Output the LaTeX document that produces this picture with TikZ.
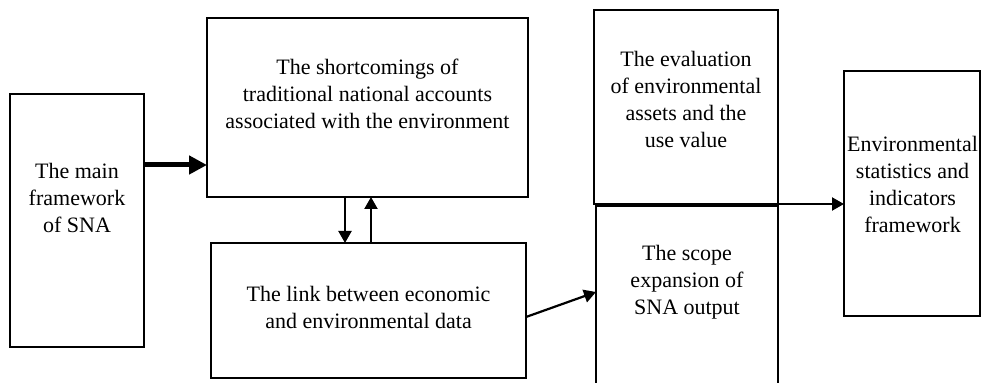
\documentclass[tikz,border=0pt]{standalone}
\usepackage{fontspec}
\setmainfont{Liberation Serif}
\usetikzlibrary{arrows.meta}

\begin{document}
\begin{tikzpicture}[x=0.5pt,y=-0.5pt]
    \tikzstyle{every node}+=[inner sep=0pt]
    \tikzstyle{box}=[draw=black, line width=0.65pt, outer sep=0pt]
    \tikzstyle{txt}=[align=center, font=\fontsize{11}{13.5}\selectfont]
    \tikzstyle{arr}=[line width=1.1pt, -{Triangle[length=6pt,width=6.5pt]}]
    \tikzstyle{bigarr}=[line width=2.5pt, -{Triangle[length=9pt,width=9pt]}]
    \useasboundingbox (0,0) rectangle (981,383);
    \node[box, minimum width=67pt, minimum height=126.5pt] (sna) at (77,220.5) {};
    \node[txt] (snatxt) at (77,197.5) {The main\\framework\\of SNA};
    \node[box, minimum width=160.5pt, minimum height=89.5pt] (shortc) at (367.5,107.5) {};
    \node[txt] (shortctxt) at (367.5,94) {The shortcomings of\\traditional national accounts\\associated with the environment};
    \node[box, minimum width=157.5pt, minimum height=67.5pt] (link) at (368.5,310.5) {};
    \node[txt] (linktxt) at (368.5,307) {The link between economic\\and environmental data};
    \node[box, minimum width=92pt, minimum height=97pt] (evalu) at (686,107) {};
    \node[txt] (evalutxt) at (686,99) {The evaluation\\of environmental\\assets and the\\use value};
    \node[box, minimum width=91pt, minimum height=90pt] (scope) at (687,296) {};
    \node[txt] (scopetxt) at (687,282) {The scope\\expansion of\\SNA output};
    \node[box, minimum width=68pt, minimum height=122.5pt] (envfw) at (912,193.5) {};
    \node[txt] (envfwtxt) at (912.5,184.5) {Environmental\\statistics and\\indicators\\framework};
    \draw[bigarr] (sna.east |- 0,165) -- (shortc.west |- 0,165);
    \draw[arr] (shortc.south -| 345,0) -- (link.north -| 345,0);
    \draw[arr] (link.north -| 371,0) -- (shortc.south -| 371,0);
    \draw[arr] (link.east |- 0,317) -- (scope.west |- 0,292);
    \draw[arr] (evalu.south east) -- (envfw.west |- evalu.south east);
\end{tikzpicture}
\end{document}
